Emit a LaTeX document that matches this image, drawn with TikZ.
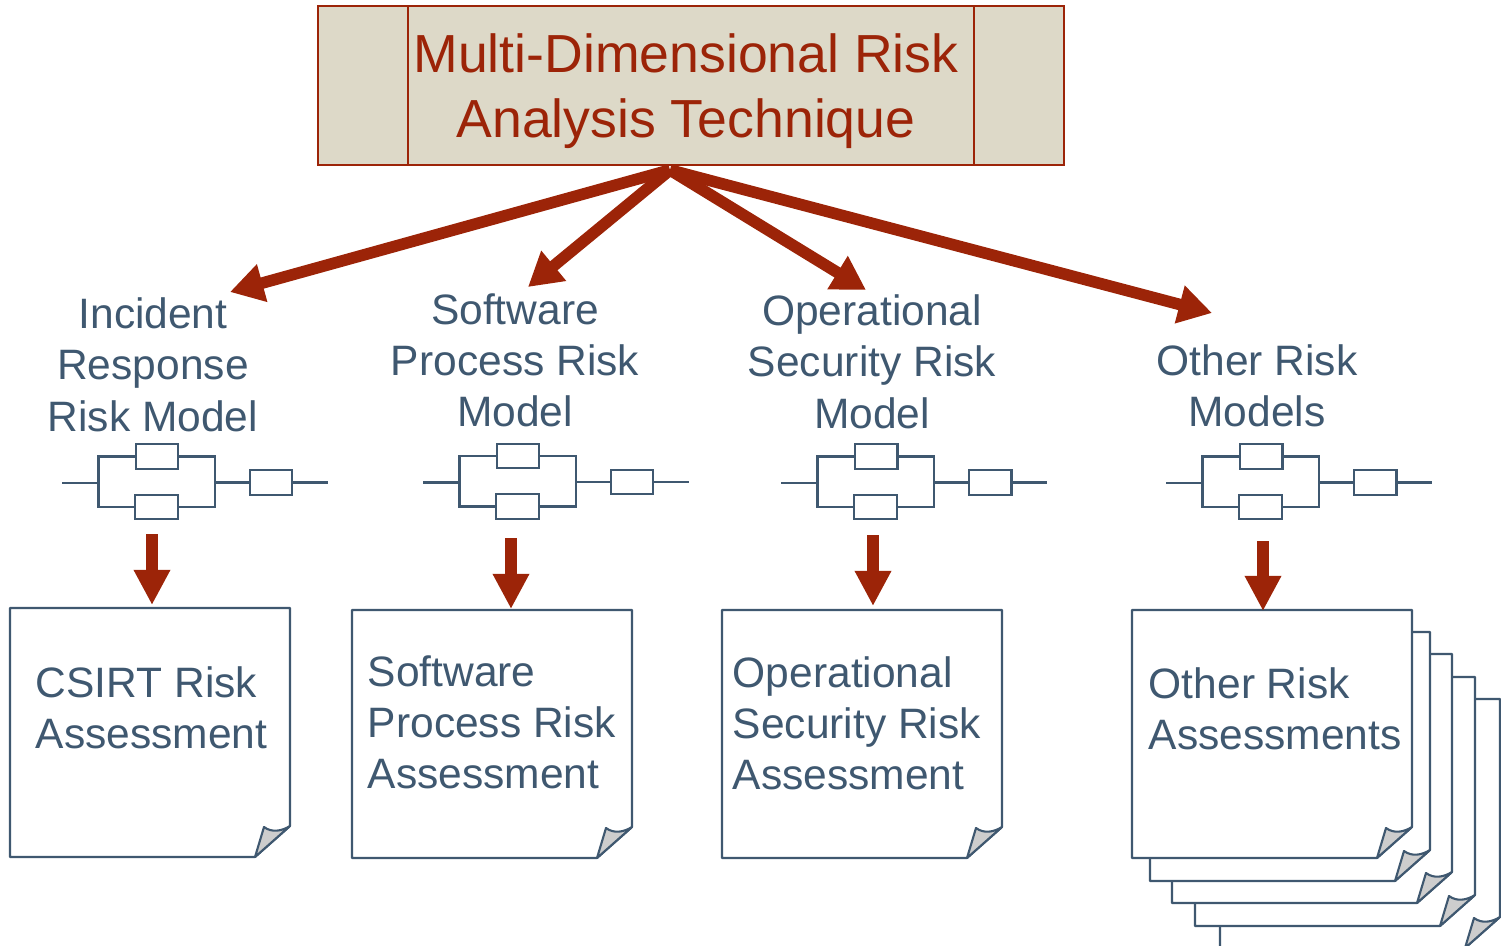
\documentclass[tikz,border=0pt]{standalone}
\usepackage{fontspec}
\setmainfont{Liberation Sans}
\usetikzlibrary{arrows.meta}
\definecolor{slateblue}{HTML}{3F5870}
\definecolor{brickred}{HTML}{9C2408}
\definecolor{paleolive}{HTML}{DDD9C8}
\definecolor{foldgray}{HTML}{CDCDCD}
\tikzset{
    >=latex,
    modeltext/.style={text=slateblue, align=center, inner sep=0pt, font=\fontsize{24.2}{29.2}\selectfont},
    pagetext/.style={text=slateblue, align=left, anchor=north west, inner sep=0pt, font=\fontsize{24.2}{29}\selectfont},
    titletext/.style={text=brickred, align=center, inner sep=0pt, font=\fontsize{30.5}{36.8}\selectfont},
    block/.style={draw=slateblue, line width=1.2pt, fill=white, inner sep=0pt, minimum width=24.4pt, minimum height=13.8pt},
    wire/.style={draw=slateblue, line width=1.2pt},
    sheet/.style={draw=slateblue, fill=white, line width=1.2pt, line join=round},
    fold/.style={draw=slateblue, fill=foldgray, line width=1.2pt, line join=round},
    bigarrow/.style={draw=brickred, line width=6.6pt, -{Triangle[length=19pt, width=21pt, fill=brickred]}},
    downarrow/.style={draw=brickred, line width=6.8pt, -{Triangle[length=20pt, width=19.5pt, fill=brickred]}}
}
\newcommand{\risksheet}[4]{
    \draw[sheet] (#1,#2) -- (#3,#2) -- (#3,#4-31) -- (#3-35,#4) -- (#1,#4) -- cycle;
    \draw[fold] (#3-35,#4) -- (#3-26,#4-30) .. controls (#3-18,#4-24) and (#3-8,#4-26) .. (#3,#4-31) -- cycle;
}

\begin{document}
\begin{tikzpicture}[x=0.02cm, y=-0.02cm]
    \useasboundingbox (0,0) rectangle (1501,946);
    \clip (0,0) rectangle (1501,946);

    \draw[draw=brickred, fill=paleolive, line width=0.9pt] (318,6) rectangle (1064,165);
    \draw[draw=brickred, line width=0.9pt] (408,6) -- (408,165) (974,6) -- (974,165);
    \node[titletext] (title) at (686,91) {Multi-Dimensional Risk\\Analysis Technique};

    \node[modeltext] (incident) at (153,364.5) {Incident\\Response\\Risk Model};
    \node[modeltext] (process) at (515,360.5) {Software\\Process Risk\\Model};
    \node[modeltext] (security) at (872,361.5) {Operational\\Security Risk\\Model};
    \node[modeltext] (other) at (1257,385.5) {Other Risk\\Models};

    \coordinate (apex) at (670,170);
    \coordinate (incident tip) at (230,292);
    \coordinate (process tip) at (528,287);
    \coordinate (security tip) at (866,290);
    \coordinate (other tip) at (1212,313);
    \draw[bigarrow] (apex) -- (incident tip);
    \draw[bigarrow] (apex) -- (process tip);
    \draw[bigarrow] (apex) -- (security tip);
    \draw[bigarrow] (apex) -- (other tip);

    \foreach \n/\dx/\dy in {a/0/0, b/361/-0.5, c/719/0, d/1104/0}{
        \begin{scope}[shift={(\dx,\dy)}]
            \node[block] (top \n) at (157,456.5) {};
            \node[block] (low \n) at (156.5,507) {};
            \node[block] (end \n) at (271,482.5) {};
            \coordinate (in \n) at (62,483);
            \coordinate (out \n) at (327.5,482.5);
            \coordinate (left \n) at (98.5,483);
            \coordinate (right \n) at (215,482.5);
            \draw[wire] (in \n) -- (left \n);
            \draw[wire] (top \n.west) -| (left \n) |- (low \n.west);
            \draw[wire] (top \n.east) -| (right \n) |- (low \n.east);
            \draw[wire] (right \n) -- (end \n.west);
            \draw[wire] (end \n.east) -- (out \n);
        \end{scope}
    }

    \risksheet{10}{608}{290}{857}
    \risksheet{352}{610}{632}{858}
    \risksheet{722}{610}{1002}{858}
    \risksheet{1220}{699}{1500}{948}
    \risksheet{1195}{677}{1475}{926}
    \risksheet{1172}{654}{1452}{903}
    \risksheet{1150}{632}{1430}{881}
    \risksheet{1132}{610}{1412}{858}

    \node[pagetext] (csirt) at (35.5,666) {CSIRT Risk\\Assessment};
    \node[pagetext] (process page) at (367.5,655.5) {Software\\Process Risk\\Assessment};
    \node[pagetext] (security page) at (732.5,656.5) {Operational\\Security Risk\\Assessment};
    \node[pagetext] (other page) at (1148.5,667) {Other Risk\\Assessments};

    \coordinate (a top) at (152,534);
    \coordinate (a tip) at (152,605);
    \coordinate (b top) at (511,538);
    \coordinate (b tip) at (511,609);
    \coordinate (c top) at (873,535);
    \coordinate (c tip) at (873,606);
    \coordinate (d top) at (1263,541);
    \coordinate (d tip) at (1263,611);
    \draw[downarrow] (a top) -- (a tip);
    \draw[downarrow] (b top) -- (b tip);
    \draw[downarrow] (c top) -- (c tip);
    \draw[downarrow] (d top) -- (d tip);

\end{tikzpicture}
\end{document}
